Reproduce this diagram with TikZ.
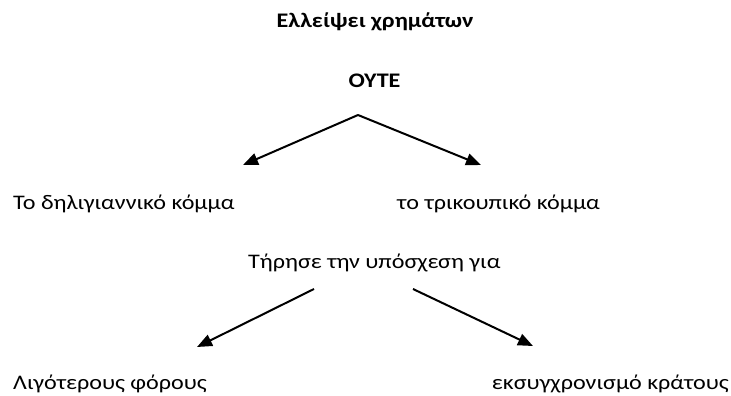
\documentclass[tikz,border=0pt]{standalone}
\usepackage{fontspec}
\setmainfont{Carlito}[FakeStretch=1.165]
\usetikzlibrary{arrows.meta}
\begin{document}
\begin{tikzpicture}[x=1pt,y=-1pt,
  lbl/.style={inner sep=0pt,font=\fontsize{20.7}{24}\selectfont,anchor=base},
  ttl/.style={lbl,font=\fontsize{20.7}{24}\selectfont\bfseries},
  arr/.style={line width=2pt,-{Triangle[length=15pt,width=12pt]}}]
\useasboundingbox (0,0) rectangle (731,396);
\node[ttl] (title) at (375,28) {Ελλείψει χρημάτων};
\node[ttl] (oute) at (374.5,88) {ΟΥΤΕ};
\node[lbl,anchor=base west] (dil) at (13,209) {Το δηλιγιαννικό κόμμα};
\node[lbl,anchor=base west] (trik) at (397,209) {το τρικουπικό κόμμα};
\node[lbl,anchor=base west] (tirise) at (248,268) {Τήρησε την υπόσχεση για};
\node[lbl,anchor=base west] (foroi) at (13,389) {Λιγότερους φόρους};
\node[lbl,anchor=base east] (kratos) at (729,389) {εκσυγχρονισμό κράτους};
\coordinate (apex) at (358,115);
\coordinate (t1) at (243,165);
\coordinate (t2) at (481,165);
\coordinate (s3) at (314,289);
\coordinate (t3) at (197,347);
\coordinate (s4) at (413,289);
\coordinate (t4) at (533,346);
\draw[arr,line join=miter] (apex) -- (t1);
\draw[arr] (apex) -- (t2);
\draw[arr] (s3) -- (t3);
\draw[arr] (s4) -- (t4);
\end{tikzpicture}
\end{document}
